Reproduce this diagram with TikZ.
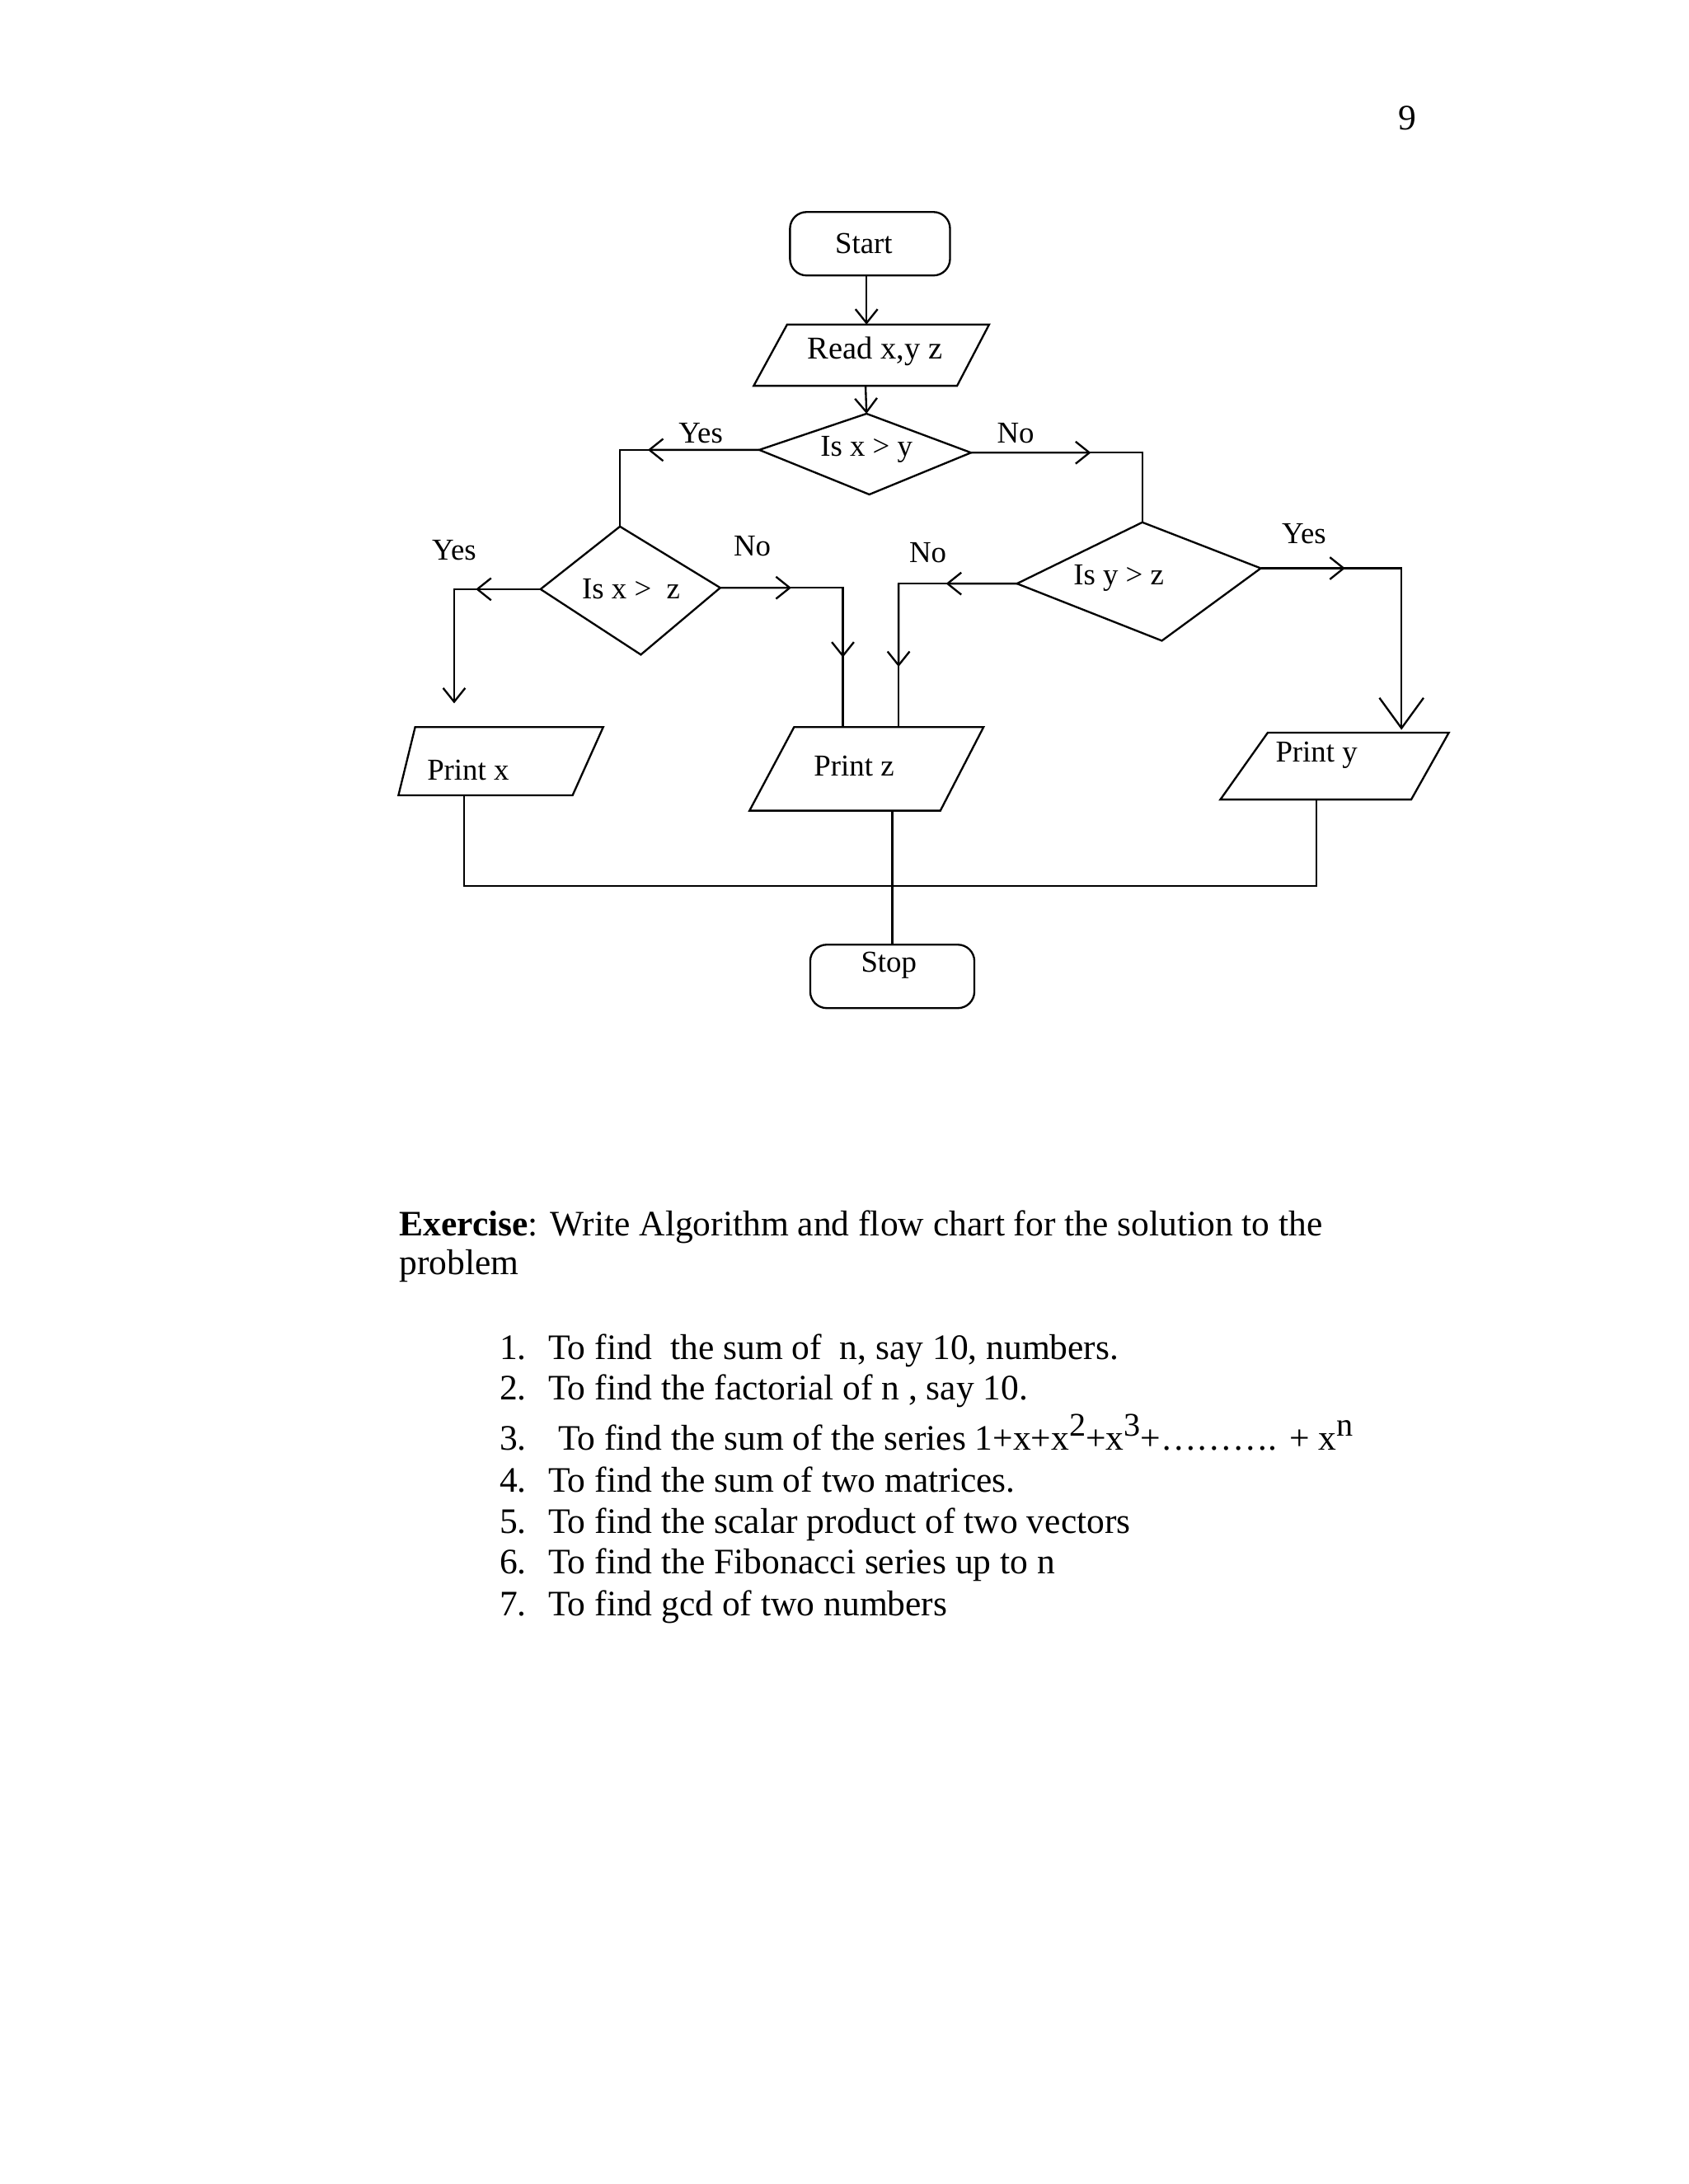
\documentclass[tikz,border=0pt]{standalone}
\usepackage{fontspec}
\setmainfont{Liberation Serif}
\usetikzlibrary{arrows.meta,calc}
\begin{document}
\begin{tikzpicture}[x=0.50495pt,y=-0.50495pt, line width=0.7pt,
  barb/.style={-{Straight Barb[length=5pt,width=8pt]}},
  bigbarb/.style={-{Straight Barb[length=11pt,width=16pt]}},
  fc/.style={font=\fontsize{11}{13}\selectfont, inner sep=0pt},
  body/.style={font=\fontsize{13}{15}\selectfont, inner sep=0pt, anchor=base west},
  term/.style={draw, rounded corners=6pt, minimum width=58pt, minimum height=23pt, inner sep=0pt}]
\useasboundingbox (0,0) rectangle (1212,1568);

% page number
\node[body] (pg) at (1003,93) {9};

% Start / Stop
\node[term] (start) at (624.5,175) {};
\node[fc] (starttxt) at (620,175) {Start};
\node[term, minimum width=59.5pt] (stop) at (640.5,701) {};
\node[fc] (stoptxt) at (638,693) {Stop};

% Read parallelogram
\coordinate (rdTL) at (565,233); \coordinate (rdTR) at (710,233);
\coordinate (rdBR) at (687,277); \coordinate (rdBL) at (541,277);
\draw (rdTL) -- (rdTR) -- (rdBR) -- (rdBL) -- cycle;
\node[fc, font=\fontsize{11.5}{13}\selectfont] (read) at (628,252) {Read x,y z};
\coordinate (rdB) at ($(rdBL)!0.55!(rdBR)$);

% Diamond 1
\coordinate (d1T) at (622,297); \coordinate (d1R) at (697,325);
\coordinate (d1B) at (624,355); \coordinate (d1L) at (545,323);
\draw (d1T) -- (d1R) -- (d1B) -- (d1L) -- cycle;
\node[fc] (d1) at (622,323) {Is x > y};

% Diamond 2
\coordinate (d2T) at (445,378); \coordinate (d2R) at (517,422);
\coordinate (d2B) at (460,470); \coordinate (d2L) at (388,423);
\draw (d2T) -- (d2R) -- (d2B) -- (d2L) -- cycle;
\node[fc] (d2) at (453,423) {Is x >\ \ z};

% Diamond 3
\coordinate (d3T) at (820,375); \coordinate (d3R) at (905,408);
\coordinate (d3B) at (834,460); \coordinate (d3L) at (730,419);
\draw (d3T) -- (d3R) -- (d3B) -- (d3L) -- cycle;
\node[fc] (d3) at (803,415) {Is y > z};

% Print x
\coordinate (pxTL) at (298,522); \coordinate (pxTR) at (433,522);
\coordinate (pxBR) at (411,571); \coordinate (pxBL) at (286,571);
\draw (pxTL) -- (pxTR) -- (pxBR) -- (pxBL) -- cycle;
\node[fc] (px) at (336,553) {Print x};

% Print z
\coordinate (pzTL) at (570,522); \coordinate (pzTR) at (706,522);
\coordinate (pzBR) at (675,582); \coordinate (pzBL) at (538,582);
\draw (pzTL) -- (pzTR) -- (pzBR) -- (pzBL) -- cycle;
\node[fc] (pz) at (613,550) {Print z};

% Print y
\coordinate (pyTL) at (910,526); \coordinate (pyTR) at (1040,526);
\coordinate (pyBR) at (1013,574); \coordinate (pyBL) at (876,574);
\draw (pyTL) -- (pyTR) -- (pyBR) -- (pyBL) -- cycle;
\node[fc] (py) at (945,542) {Print y};

% connector end points
\coordinate (pxA) at (326,505);
\coordinate (pzL) at (605,522);
\coordinate (pzR) at (645,522);
\coordinate (pyT) at (1006,524);
\coordinate (pxB) at (333,571);
\coordinate (pzB) at (640.5,582);
\coordinate (pyB) at (945,574);
\coordinate (join) at (640.5,636);

% Start -> Read -> d1
\draw[barb] (start.south -| 622,0) -- (622,233);
\draw[barb] (rdB) -- (d1T);

% d1 Yes / No
\draw (d1L) -- (d1L -| d2T) -- (d2T);
\draw[barb] (d1L) -- ($(d1L)!0.8!(d1L -| d2T)$);
\draw (d1R) -- (d1R -| d3T) -- (d3T);
\draw[barb] (d1R) -- ($(d1R)!0.7!(d1R -| d3T)$);

% d2 Yes / No
\draw[barb] (d2L) -- (d2L -| pxA) -- (pxA);
\draw[barb] (d2L) -- ($(d2L)!0.75!(d2L -| pxA)$);
\draw (d2R) -- (d2R -| pzL) -- (pzL);
\draw[barb] (d2R) -- ($(d2R)!0.58!(d2R -| pzL)$);
\draw[barb] (d2R -| pzL) -- ($(d2R -| pzL)!0.5!(pzL)$);

% d3 No / Yes
\draw (d3L) -- (d3L -| pzR) -- (pzR);
\draw[barb] (d3L) -- ($(d3L)!0.6!(d3L -| pzR)$);
\draw[barb] (d3L -| pzR) -- ($(d3L -| pzR)!0.58!(pzR)$);
\draw[bigbarb] (d3R) -- (d3R -| pyT) -- (pyT);
\draw[barb] (d3R) -- ($(d3R)!0.6!(d3R -| pyT)$);

% to Stop
\draw (pxB) -- (pxB |- join) -- (join);
\draw (pzB) -- (join);
\draw (pyB) -- (pyB |- join) -- (join);
\draw (join) -- (stop.north);

% branch labels
\node[fc] (lyes1) at (503,311) {Yes};
\node[fc] (lno1) at (729,311) {No};
\node[fc] (lyes2) at (326,395) {Yes};
\node[fc] (lno2) at (540,392) {No};
\node[fc] (lno3) at (666,397) {No};
\node[fc] (lyes3) at (936,383) {Yes};

% exercise text
\node[body] (ex1) at (286,887) {\textbf{Exercise}: Write Algorithm and flow chart for the solution to the};
\node[body] (ex2) at (286,915) {problem};

\node[body] (n1) at (358,976) {1.};
\node[body] (i1) at (393,976) {To find\ \ the sum of\ \ n, say 10, numbers.};
\node[body] (n2) at (358,1005) {2.};
\node[body] (i2) at (393,1005) {To find the factorial of n , say 10.};
\node[body] (n3) at (358,1041) {3.};
\node[body] (i3) at (400,1041) {To find the sum of the series 1+x+x\raisebox{5pt}{\fontsize{12}{13}\selectfont 2}+x\raisebox{5pt}{\fontsize{12}{13}\selectfont 3}+\ldots\ldots\ldots. + x\raisebox{5pt}{\fontsize{12}{13}\selectfont n}};
\node[body] (n4) at (358,1071) {4.};
\node[body] (i4) at (393,1071) {To find the sum of two matrices.};
\node[body] (n5) at (358,1101) {5.};
\node[body] (i5) at (393,1101) {To find the scalar product of two vectors};
\node[body] (n6) at (358,1130) {6.};
\node[body] (i6) at (393,1130) {To find the Fibonacci series up to n};
\node[body] (n7) at (358,1160) {7.};
\node[body] (i7) at (393,1160) {To find gcd of two numbers};
\end{tikzpicture}
\end{document}
